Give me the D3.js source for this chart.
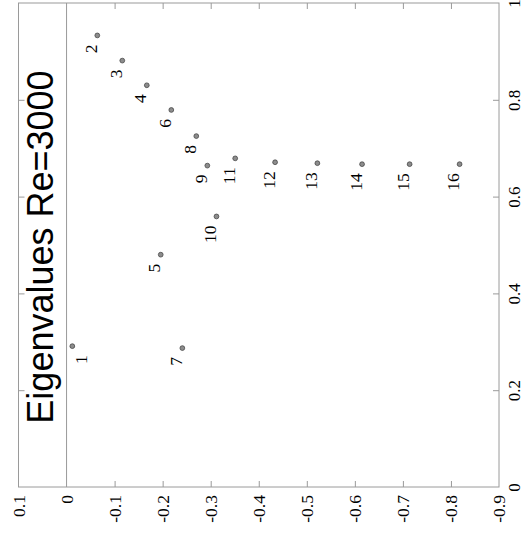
<!DOCTYPE html>
<html>
<head>
<meta charset="utf-8">
<script src="https://cdn.jsdelivr.net/npm/d3@7"></script>
<style>
  html, body { margin: 0; padding: 0; background: #fff; }
  svg { display: block; }
</style>
</head>
<body>
<svg id="chart" width="524" height="533"></svg>
<script>
// Orr-Sommerfeld eigenvalues c = cr + i*ci, Re = 3000 (figure is drawn turned on its side)
const modes = [1, 2, 3, 4, 5, 6, 7, 8, 9, 10, 11, 12, 13, 14, 15, 16];
const cr = [0.291, 0.933, 0.881, 0.830, 0.480, 0.779, 0.287, 0.725, 0.664, 0.559, 0.679, 0.671, 0.669, 0.667, 0.667, 0.667];
const ci = [-0.012, -0.064, -0.116, -0.167, -0.196, -0.218, -0.241, -0.270, -0.293, -0.312, -0.351, -0.434, -0.522, -0.615, -0.714, -0.818];

const ciTicks = [0.1, 0, -0.1, -0.2, -0.3, -0.4, -0.5, -0.6, -0.7, -0.8, -0.9];
const ciTickLabels = ["0.1", "0", "-0.1", "-0.2", "-0.3", "-0.4", "-0.5", "-0.6", "-0.7", "-0.8", "-0.9"];
const crTicks = [0, 0.2, 0.4, 0.6, 0.8, 1];
const crTickLabels = ["0", "0.2", "0.4", "0.6", "0.8", "1"];

const titleText = "Eigenvalues Re=3000";

const svg = d3.select("#chart");
const frame = { left: 18.5, right: 499, top: 3, bottom: 487 };

// imaginary part runs across the page, real part runs up the page
const x = d3.scaleLinear().domain([0.1, -0.9]).range([frame.left, frame.right]);
const y = d3.scaleLinear().domain([0, 1]).range([frame.bottom, frame.top]);

const gridColor = "#9a9a9a";
const serif = "'Liberation Serif', 'Times New Roman', serif";

// frame
svg.append("rect")
  .attr("x", frame.left).attr("y", frame.top)
  .attr("width", frame.right - frame.left).attr("height", frame.bottom - frame.top)
  .attr("fill", "none").attr("stroke", gridColor).attr("stroke-width", 1);

// ci = 0 line
svg.append("line")
  .attr("x1", x(0)).attr("x2", x(0))
  .attr("y1", frame.top).attr("y2", frame.bottom)
  .attr("stroke", gridColor).attr("stroke-width", 1);

const innerTicks = ciTicks.filter(d => d < 0 && d > -0.9);
const innerCr = crTicks.filter(d => d > 0 && d < 1);

function styleAxis(g) {
  g.select(".domain").remove();
  g.selectAll(".tick line").attr("stroke", gridColor);
}

// bottom axis with labels
const bottomAxis = svg.append("g")
  .attr("transform", `translate(0,${frame.bottom})`)
  .call(d3.axisBottom(x).tickValues(ciTicks)
    .tickFormat((d, i) => ciTickLabels[i]).tickSize(-6).tickPadding(0));
styleAxis(bottomAxis);
bottomAxis.selectAll(".tick line").filter(d => !innerTicks.includes(d)).remove();
bottomAxis.selectAll(".tick text")
  .attr("transform", "rotate(-90)")
  .attr("text-anchor", "end")
  .attr("x", -8).attr("y", 5.5).attr("dy", 0)
  .attr("font-family", serif).attr("font-size", 17.5).attr("fill", "#000");

// top ticks
const topAxis = svg.append("g")
  .attr("transform", `translate(0,${frame.top})`)
  .call(d3.axisTop(x).tickValues(innerTicks).tickFormat("").tickSize(-6));
styleAxis(topAxis);

// right axis with labels
const rightAxis = svg.append("g")
  .attr("transform", `translate(${frame.right},0)`)
  .call(d3.axisRight(y).tickValues(crTicks)
    .tickFormat((d, i) => crTickLabels[i]).tickSize(-6).tickPadding(0));
styleAxis(rightAxis);
rightAxis.selectAll(".tick line").filter(d => !innerCr.includes(d)).remove();
rightAxis.selectAll(".tick text")
  .attr("transform", "rotate(-90)")
  .attr("text-anchor", "middle")
  .attr("x", 0).attr("y", 20.5).attr("dy", 0)
  .attr("font-family", serif).attr("font-size", 17).attr("fill", "#000");

// left ticks
const leftAxis = svg.append("g")
  .attr("transform", `translate(${frame.left},0)`)
  .call(d3.axisLeft(y).tickValues(innerCr).tickFormat("").tickSize(-6));
styleAxis(leftAxis);

// title, in the strip between ci = 0.1 and ci = 0
svg.append("text")
  .attr("transform", `translate(53,${(frame.top + frame.bottom) / 2 + 2}) rotate(-90)`)
  .attr("text-anchor", "middle")
  .attr("font-family", "'Liberation Sans', Arial, Helvetica, sans-serif")
  .attr("font-size", 36)
  .attr("fill", "#000")
  .text(titleText);

// eigenvalues
const pts = modes.map((m, i) => ({ mode: m, cr: cr[i], ci: ci[i] }));

svg.append("g").selectAll("circle")
  .data(pts).join("circle")
  .attr("cx", d => x(d.ci)).attr("cy", d => y(d.cr))
  .attr("r", 2.4)
  .attr("fill", "#8c8c8c").attr("stroke", "#3a3a3a").attr("stroke-width", 0.7);

// mode numbers, set just beside each point; keep them clear of the ci = 0 line
svg.append("g").selectAll("text")
  .data(pts).join("text")
  .attr("transform", d => {
    const px = Math.max(x(d.ci) - 0.5, x(0) + 20);
    return `translate(${px},${y(d.cr)}) rotate(-90)`;
  })
  .attr("x", -9).attr("y", 0)
  .attr("text-anchor", "end")
  .attr("font-family", serif).attr("font-size", 17.5).attr("fill", "#000")
  .text(d => d.mode);
</script>
</body>
</html>
